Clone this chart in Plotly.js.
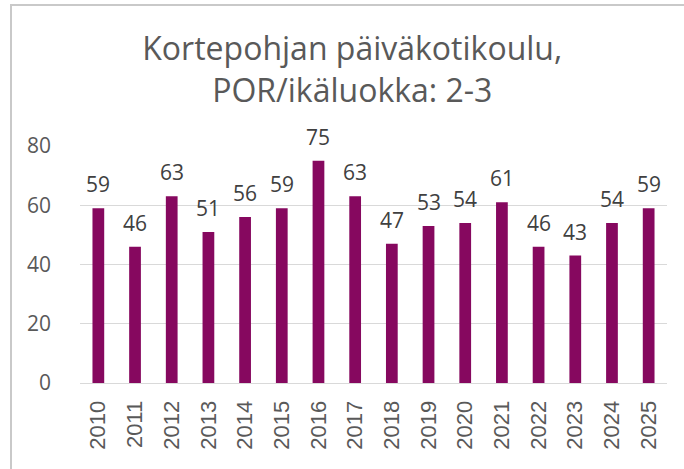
<!DOCTYPE html>
<html>
<head>
<meta charset="utf-8">
<script src="https://cdn.plot.ly/plotly-3.0.1.min.js"></script>
<style>
html,body{margin:0;padding:0;background:#fff;}
#frame{position:absolute;left:10px;top:4px;width:700px;height:500px;border:2px solid #c9c9c9;box-sizing:border-box;}
#chart{position:absolute;left:0;top:0;width:684px;height:469px;}
</style>
</head>
<body>
<div id="frame"></div>
<div id="chart"></div>
<script>
const years = ["2010","2011","2012","2013","2014","2015","2016","2017","2018","2019","2020","2021","2022","2023","2024","2025"];
const values = [59,46,63,51,56,59,75,63,47,53,54,61,46,43,54,59];
const titleText = "Kortepohjan päiväkotikoulu,<br>POR/ikäluokka: 2-3";
const yTicks = [0,20,40,60,80];

const trace = {
  type: "bar",
  x: years,
  y: values,
  marker: {color: "#86085F"},
  hoverinfo: "x+y"
};

// category axis: annotation x is the category index
const labels = values.map((v, i) => ({
  x: i, y: v, xref: "x", yref: "y",
  text: String(v),
  showarrow: false,
  yanchor: "bottom",
  yshift: 8,
  font: {family: "Open Sans", size: 21, color: "#404040"}
}));

const layout = {
  width: 684, height: 469,
  paper_bgcolor: "rgba(0,0,0,0)",
  plot_bgcolor: "rgba(0,0,0,0)",
  margin: {l: 80, r: 17, t: 146, b: 86},
  bargap: 0.68,
  showlegend: false,
  title: {
    text: titleText,
    font: {family: "Open Sans", size: 32, color: "#595959"},
    xref: "container",
    x: 0.515, xanchor: "center",
    yref: "container",
    y: 0.872, yanchor: "middle"
  },
  annotations: labels,
  xaxis: {
    type: "category",
    categoryarray: years,
    range: [-0.5, years.length - 0.5],
    tickangle: -90,
    tickfont: {family: "Liberation Sans", size: 22, color: "#595959"},
    showgrid: false,
    showline: true, linecolor: "#d9d9d9", linewidth: 1,
    ticks: "", ticklen: 0,
    ticklabelstandoff: 8
  },
  yaxis: {
    range: [0, 80],
    tickvals: yTicks,
    tickfont: {family: "Open Sans", size: 21, color: "#595959"},
    showgrid: true, gridcolor: "#d9d9d9", gridwidth: 1,
    zeroline: false, showline: false,
    ticks: "", ticklabelstandoff: 28
  }
};

Plotly.newPlot("chart", [trace], layout, {displayModeBar: false, staticPlot: true});
</script>
</body>
</html>
